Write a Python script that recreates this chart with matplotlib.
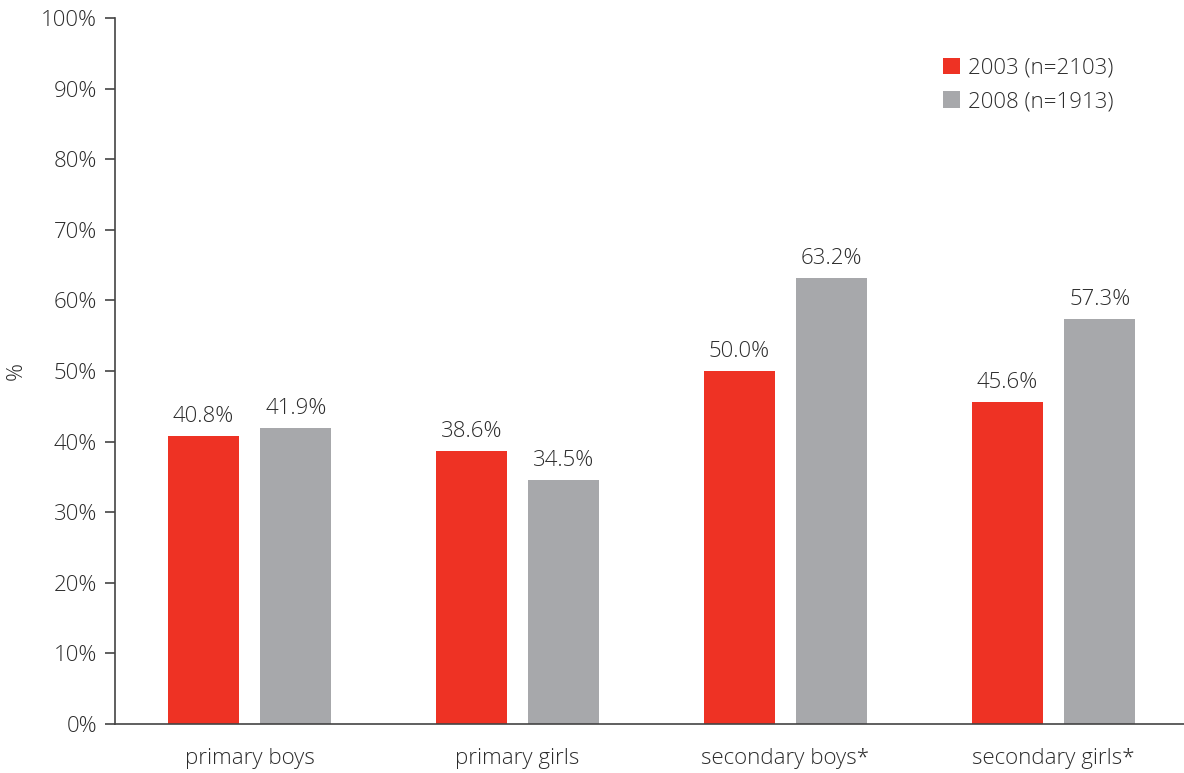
import matplotlib.pyplot as plt
import numpy as np

plt.rcParams['font.family'] = ['Open Sans', 'DejaVu Sans']
plt.rcParams['font.weight'] = 'light'

# survey groups and shares per year
groups = ['primary boys', 'primary girls', 'secondary boys*', 'secondary girls*']
share_2003 = [40.8, 38.6, 50.0, 45.6]
share_2008 = [41.9, 34.5, 63.2, 57.3]
series_labels = ['2003 (n=2103)', '2008 (n=1913)']

red = '#ee3224'
grey = '#a7a8ab'
txt = '#2c2c2c'
fs = 16

fig = plt.figure(figsize=(11.84, 7.73), dpi=100)
ax = fig.add_axes([0.0971, 0.0634, 0.9029, 0.9133])

x = np.arange(len(groups))
w = 0.265
off = 0.1726
b1 = ax.bar(x - off, share_2003, w, color=red, label=series_labels[0])
b2 = ax.bar(x + off, share_2008, w, color=grey, label=series_labels[1])

# value labels above bars
for bars, vals in [(b1, share_2003), (b2, share_2008)]:
    for rect, v in zip(bars, vals):
        ax.text(rect.get_x() + rect.get_width() / 2, v + 2.0, f'{v:.1f}%',
                ha='center', va='baseline', fontsize=fs, color=txt)

ax.set_xlim(-0.502, 3.487)
ax.set_ylim(0, 100)
ax.set_yticks(np.arange(0, 101, 10))
ax.set_yticklabels([f'{t}%' for t in range(0, 101, 10)])
ax.set_xticks(x)
ax.set_xticklabels(groups)
ax.tick_params(axis='x', length=0, pad=17, labelsize=fs, colors=txt)
ax.tick_params(axis='y', length=7, width=1.2, pad=6, labelsize=fs,
               colors='#444444', labelcolor=txt)
for s in ['top', 'right']:
    ax.spines[s].set_visible(False)
for s in ['left', 'bottom']:
    ax.spines[s].set_color('#444444')
    ax.spines[s].set_linewidth(1.2)

ax.set_ylabel('%', fontsize=fs, fontweight='light', color=txt, labelpad=10)

leg = ax.legend(loc='upper left', bbox_to_anchor=(0.7746, 0.9435), frameon=False,
                fontsize=fs, handlelength=0.77, handleheight=0.77,
                handletextpad=0.36, labelspacing=0.56,
                borderaxespad=0, borderpad=0)
for t in leg.get_texts():
    t.set_color(txt)

fig.savefig('out.png', dpi=100)
